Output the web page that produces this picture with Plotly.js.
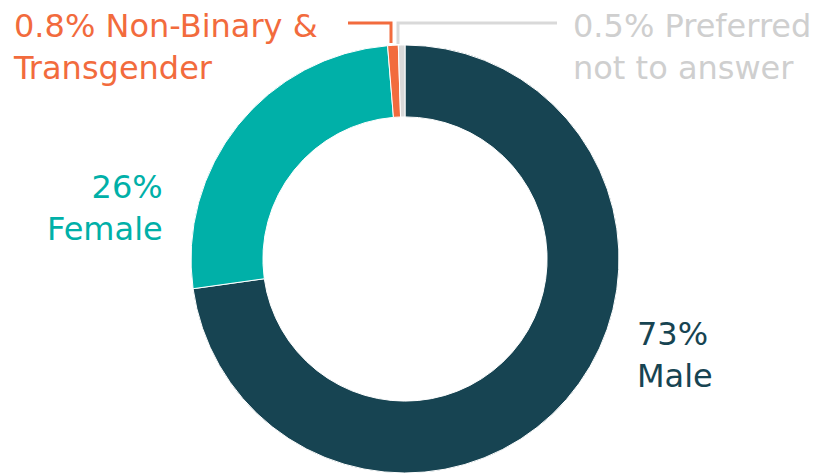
<!DOCTYPE html>
<html>
<head>
<meta charset="utf-8">
<script src="https://cdn.plot.ly/plotly-3.0.1.min.js"></script>
<style>html,body{margin:0;padding:0;background:#fff;}#chart{width:820px;height:473px;}</style>
</head>
<body>
<div id="chart"></div>
<script>
const categories = ["Male", "Female", "Non-Binary & Transgender", "Preferred not to answer"];
const values = [73, 26, 0.8, 0.5];
const valueLabels = ["73%", "26%", "0.8%", "0.5%"];
const colors = ["#174452", "#00b0a8", "#f26b3d", "#d9d9d9"];
const textColors = ["#174452", "#00b0a8", "#f26b3d", "#cfcfcf"];

const W = 820, H = 473;
const px = x => x / W;
const py = y => 1 - y / H;

const trace = {
  type: "pie",
  labels: categories,
  values: values,
  sort: false,
  direction: "clockwise",
  rotation: 0,
  hole: 0.664,
  textinfo: "none",
  hoverinfo: "label+percent",
  marker: {colors: colors, line: {color: "#ffffff", width: 1}},
  domain: {x: [px(405 - 214), px(405 + 214)], y: [0, py(45)]},
  showlegend: false
};

const font = "DejaVu Sans, sans-serif";
const annotations = [
  {x: px(11), y: py(5), xanchor: "left", yanchor: "top", align: "left",
   text: valueLabels[2] + " Non-Binary &amp;<br>Transgender", font: {color: textColors[2]}},
  {x: px(571), y: py(5), xanchor: "left", yanchor: "top", align: "left",
   text: valueLabels[3] + " Preferred<br>not to answer", font: {color: textColors[3]}},
  {x: px(165), y: py(208), xanchor: "right", yanchor: "middle", align: "right",
   text: valueLabels[1] + "<br>" + categories[1], font: {color: textColors[1]}},
  {x: px(635), y: py(355), xanchor: "left", yanchor: "middle", align: "left",
   text: valueLabels[0] + "<br>" + categories[0], font: {color: textColors[0]}}
].map(a => Object.assign(a, {xref: "paper", yref: "paper", showarrow: false,
  font: Object.assign({family: font, size: 32}, a.font)}));

const shapes = [
  {type: "path", xref: "paper", yref: "paper",
   path: `M ${px(348)} ${py(23)} L ${px(391)} ${py(23)} L ${px(391)} ${py(43)}`,
   line: {color: colors[2], width: 3}},
  {type: "path", xref: "paper", yref: "paper",
   path: `M ${px(398)} ${py(44)} L ${px(398)} ${py(23)} L ${px(557)} ${py(23)}`,
   line: {color: colors[3], width: 3}}
];

Plotly.newPlot("chart", [trace], {
  width: W, height: H,
  margin: {l: 0, r: 0, t: 0, b: 0},
  paper_bgcolor: "#ffffff",
  annotations: annotations,
  shapes: shapes
}, {displayModeBar: false, staticPlot: true});
</script>
</body>
</html>
